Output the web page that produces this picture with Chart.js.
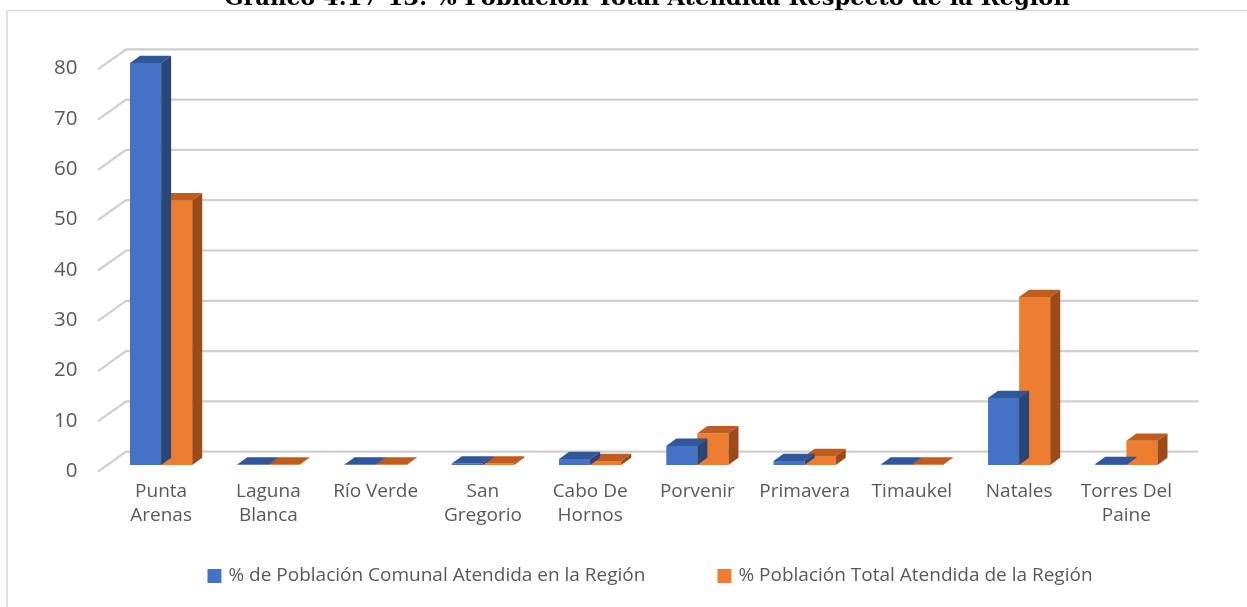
<!DOCTYPE html>
<html>
<head>
<meta charset="utf-8">
<script src="https://cdn.jsdelivr.net/npm/chart.js@4.4.1/dist/chart.umd.min.js"></script>
<style>
  html, body { margin: 0; padding: 0; background: #fff; }
  canvas { display: block; }
</style>
</head>
<body>
<canvas id="grafico" width="1247" height="607"></canvas>
<script>
// Datos
const comunas = [
    ['Punta', 'Arenas'], ['Laguna', 'Blanca'], 'Río Verde', ['San', 'Gregorio'],
    ['Cabo De', 'Hornos'], 'Porvenir', 'Primavera', 'Timaukel', 'Natales', ['Torres Del', 'Paine']
];
const pobComunal = [79.9, 0.1, 0.1, 0.3, 1.2, 3.8, 0.8, 0.1, 13.3, 0.2];
const pobTotal = [52.6, 0.1, 0.1, 0.3, 0.8, 6.3, 1.8, 0.1, 33.4, 4.8];
const nombresSeries = ['% de Población Comunal Atendida en la Región', '% Población Total Atendida de la Región'];
const ticksY = [0, 10, 20, 30, 40, 50, 60, 70, 80];
const titulo = 'Gráfico 4.17-13: % Población Total Atendida Respecto de la Región';

const colorTexto = '#595959';
const fuente = 'Open Sans';
const prof = { dx: 10, dy: 7.3 };     // profundidad de las barras 3D
const pared = { fx: -9.5, fy: 6.7, bx: 18.5, by: -13.3 }; // desplazamiento de la pared

const caras = [
    { top: '#30569B', side: '#2A4677' },
    { top: '#C05D1E', side: '#9C4A17' }
];

const fondoPlugin = {
    id: 'fondo',
    beforeDraw(chart) {
        const c = chart.ctx;
        c.save();
        c.fillStyle = '#fff';
        c.fillRect(0, 0, chart.width, chart.height);
        c.strokeStyle = '#D9D9D9';
        c.lineWidth = 1.5;
        c.strokeRect(7, 10.5, chart.width + 20, chart.height + 20);
        c.fillStyle = '#000';
        c.font = 'bold 22.6px "DejaVu Serif"';
        c.textAlign = 'center';
        c.textBaseline = 'alphabetic';
        c.fillText(titulo, 647, 5);
        c.restore();
    }
};

const paredPlugin = {
    id: 'pared',
    beforeDatasetsDraw(chart) {
        const c = chart.ctx, y = chart.scales.y, a = chart.chartArea;
        c.save();
        c.strokeStyle = '#CFCFCF';
        c.lineWidth = 2.2;
        ticksY.forEach(v => {
            const py = y.getPixelForValue(v);
            c.beginPath();
            c.moveTo(a.left + pared.fx, py + pared.fy);
            c.lineTo(a.left + pared.bx, py + pared.by);
            c.lineTo(a.right + pared.bx, py + pared.by);
            c.stroke();
        });
        c.restore();
    }
};

const barras3d = {
    id: 'barras3d',
    afterDatasetDraw(chart, args) {
        const c = chart.ctx, col = caras[args.index];
        c.save();
        args.meta.data.forEach(bar => {
            const l = bar.x - bar.width / 2, r = bar.x + bar.width / 2;
            const t = bar.y, b = bar.base;
            c.fillStyle = col.top;
            c.beginPath();
            c.moveTo(l, t);
            c.lineTo(r, t);
            c.lineTo(r + prof.dx, t - prof.dy);
            c.lineTo(l + prof.dx, t - prof.dy);
            c.closePath();
            c.fill();
            c.fillStyle = col.side;
            c.beginPath();
            c.moveTo(r, t);
            c.lineTo(r + prof.dx, t - prof.dy);
            c.lineTo(r + prof.dx, b - prof.dy);
            c.lineTo(r, b);
            c.closePath();
            c.fill();
        });
        c.restore();
    }
};

const leyendaPlugin = {
    id: 'leyenda',
    afterDraw(chart) {
        const c = chart.ctx;
        c.save();
        c.font = '19px "' + fuente + '"';
        c.textBaseline = 'middle';
        c.textAlign = 'left';
        const caja = 14, sep = 7, hueco = 72, cy = 576;
        const items = chart.data.datasets.map(d => ({ t: d.label, col: d.backgroundColor, w: caja + sep + c.measureText(d.label).width }));
        const total = items.reduce((s, it) => s + it.w, 0) + hueco * (items.length - 1);
        let x = 650 - total / 2;
        items.forEach(it => {
            c.fillStyle = it.col;
            c.fillRect(x, cy - caja / 2, caja, caja);
            c.fillStyle = colorTexto;
            c.fillText(it.t, x + caja + sep, cy);
            x += it.w + hueco;
        });
        c.restore();
    }
};

new Chart(document.getElementById('grafico'), {
    type: 'bar',
    data: {
        labels: comunas,
        datasets: [
            { label: nombresSeries[0], data: pobComunal, backgroundColor: '#4472C4' },
            { label: nombresSeries[1], data: pobTotal, backgroundColor: '#ED7D31' }
        ]
    },
    options: {
        responsive: false,
        animation: false,
        layout: { padding: { top: 62.6, right: 67, bottom: 0, left: 0 } },
        datasets: { bar: { categoryPercentage: 0.58, barPercentage: 1 } },
        plugins: { legend: { display: false }, tooltip: { enabled: false } },
        scales: {
            x: {
                grid: { display: false, drawTicks: false },
                border: { display: false },
                ticks: {
                    color: colorTexto, padding: 14, maxRotation: 0, minRotation: 0, autoSkip: false,
                    font: { family: fuente, size: 19, lineHeight: 1.3 }
                },
                afterFit(s) { s.height = 142; }
            },
            y: {
                min: 0,
                max: 80,
                grid: { display: false, drawTicks: false },
                border: { display: false },
                ticks: {
                    stepSize: 10, color: colorTexto, padding: 30, labelOffset: 6,
                    font: { family: fuente, size: 20.5 }
                },
                afterFit(s) { s.width = 107.5; }
            }
        }
    },
    plugins: [fondoPlugin, paredPlugin, barras3d, leyendaPlugin]
});
</script>
</body>
</html>
